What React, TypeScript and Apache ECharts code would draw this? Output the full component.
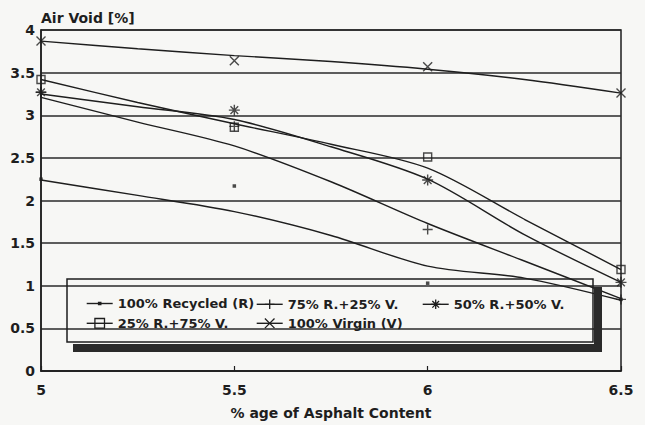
import React, { useEffect, useRef } from "react";
import * as echarts from "echarts";

// Series names
const seriesNames = [
  "100% Recycled (R)",
  "75% R.+25% V.",
  "50% R.+50% V.",
  "25% R.+75% V.",
  "100% Virgin (V)",
];

// Fitted curves
const xCurve = [5, 5.25, 5.5, 5.75, 6, 6.25, 6.5];
const curveRecycled = [2.24, 2.06, 1.87, 1.59, 1.23, 1.09, 0.83];
const curve75R = [3.21, 2.92, 2.64, 2.22, 1.73, 1.29, 0.85];
const curve50R = [3.25, 3.1, 2.95, 2.63, 2.25, 1.6, 1.04];
const curve25R = [3.42, 3.15, 2.9, 2.66, 2.38, 1.78, 1.19];
const curveVirgin = [3.87, 3.78, 3.7, 3.63, 3.54, 3.42, 3.26];

// Measured points
const xMarks = [5, 5.5, 6, 6.5];
const markRecycled = [2.25, 2.17, 1.03, 0.84];
const mark75R = [3.27, 2.87, 1.66, 0.84];
const mark50R = [3.27, 3.06, 2.24, 1.04];
const mark25R = [3.42, 2.86, 2.51, 1.19];
const markVirgin = [3.87, 3.64, 3.57, 3.26];

const yTicks = [0, 0.5, 1, 1.5, 2, 2.5, 3, 3.5, 4];
const xTicks = [5, 5.5, 6, 6.5];

const INK = "#1e1e1e";
const FONT = "DejaVu Sans";

const SYM_DOT_LEGEND = "path://M0,0M10,10M3.8,3.8L6.2,3.8L6.2,6.2L3.8,6.2Z";
const SYM_PLUS = "path://M5,0L5,10M0,5L10,5";
const SYM_STAR = "path://M5,0L5,10M0,5L10,5M1.5,1.5L8.5,8.5M8.5,1.5L1.5,8.5";
const SYM_SQUARE = "path://M0,0L10,0L10,10L0,10Z";
const SYM_X = "path://M0,0L10,10M10,0L0,10";

const curves = [curveRecycled, curve75R, curve50R, curve25R, curveVirgin];
const marks = [markRecycled, mark75R, mark50R, mark25R, markVirgin];
const legendSymbols = [SYM_DOT_LEGEND, SYM_PLUS, SYM_STAR, SYM_SQUARE, SYM_X];
const markSymbols = ["rect", SYM_PLUS, SYM_STAR, SYM_SQUARE, SYM_X];
const markSizes = [3.5, 10, 11, 8, 9];
const legendFill = [INK, "none", "none", "none", "none"];
const legendPos = [
  { left: 86, top: 297 },
  { left: 256, top: 297 },
  { left: 422, top: 297 },
  { left: 86, top: 316 },
  { left: 256, top: 316 },
];

export default function App() {
  const ref = useRef<HTMLDivElement>(null);
  useEffect(() => {
    document.body.style.margin = "0";
    if (!ref.current) return;
    const chart = echarts.init(ref.current, null, { renderer: "svg" });

    const lineSeries = seriesNames.map((name, i) => ({
      name,
      type: "line",
      data: xCurve.map((x, k) => [x, curves[i][k]]),
      smooth: 0.3,
      symbol: legendSymbols[i],
      showSymbol: false,
      lineStyle: { color: INK, width: 1.4 },
      itemStyle: { color: INK },
      z: 3,
    }));
    const scatterSeries = seriesNames.map((name, i) => ({
      name,
      type: "scatter",
      data: xMarks.map((x, k) => [x, marks[i][k]]),
      symbol: markSymbols[i],
      symbolSize: markSizes[i],
      itemStyle:
        i === 0
          ? { color: INK }
          : { color: "transparent", borderColor: INK, borderWidth: 1.4 },
      z: 4,
    }));

    const legends = seriesNames.map((name, i) => ({
      show: true,
      data: [name],
      left: legendPos[i].left,
      top: legendPos[i].top,
      padding: 0,
      itemWidth: 26,
      itemHeight: 12,
      selectedMode: false,
      itemStyle: { color: legendFill[i], borderColor: INK, borderWidth: 1.3 },
      lineStyle: { color: INK, width: 1.4 },
      textStyle: { fontFamily: FONT, fontWeight: "bold", fontSize: 13, color: INK },
    }));

    chart.setOption({
      animation: false,
      backgroundColor: "#f7f7f5",
      grid: {
        left: 41,
        right: 24,
        top: 30,
        bottom: 49,
        show: true,
        borderColor: INK,
        borderWidth: 1.5,
      },
      xAxis: {
        type: "value",
        min: xTicks[0],
        max: xTicks[xTicks.length - 1],
        interval: 0.5,
        name: "% age of Asphalt Content",
        nameLocation: "middle",
        nameGap: 35,
        nameTextStyle: { fontFamily: FONT, fontWeight: "bold", fontSize: 14, color: INK },
        axisLine: { lineStyle: { color: INK, width: 1.5 } },
        axisTick: { show: true, inside: true, length: 5, lineStyle: { color: INK, width: 1.2 } },
        axisLabel: { fontFamily: FONT, fontWeight: "bold", fontSize: 14, color: INK, margin: 12 },
        splitLine: { show: false },
      },
      yAxis: {
        type: "value",
        min: yTicks[0],
        max: yTicks[yTicks.length - 1],
        interval: 0.5,
        name: "Air Void [%]",
        nameLocation: "end",
        nameGap: 5,
        nameTextStyle: { fontFamily: FONT, fontWeight: "bold", fontSize: 14, color: INK, align: "left" },
        axisLine: { lineStyle: { color: INK, width: 1.5 } },
        axisTick: { show: false },
        axisLabel: { fontFamily: FONT, fontWeight: "bold", fontSize: 14, color: INK, margin: 6 },
        splitLine: { show: true, lineStyle: { color: "#2a2a2a", width: 1.6 } },
      },
      legend: legends,
      graphic: [
        {
          type: "rect",
          shape: { x: 67, y: 279, width: 526, height: 63 },
          style: { fill: "none", stroke: INK, lineWidth: 1.5 },
          z: 10,
        },
        {
          type: "rect",
          shape: { x: 73, y: 344, width: 529, height: 8 },
          style: { fill: "#2a2a2a" },
          z: 10,
        },
        {
          type: "rect",
          shape: { x: 594, y: 287, width: 8, height: 65 },
          style: { fill: "#2a2a2a" },
          z: 10,
        },
      ],
      series: [...lineSeries, ...scatterSeries],
    });
    return () => chart.dispose();
  }, []);
  return (
    <div
      ref={ref}
      style={{ position: "fixed", left: 0, top: 0, width: 645, height: 425 }}
    />
  );
}
